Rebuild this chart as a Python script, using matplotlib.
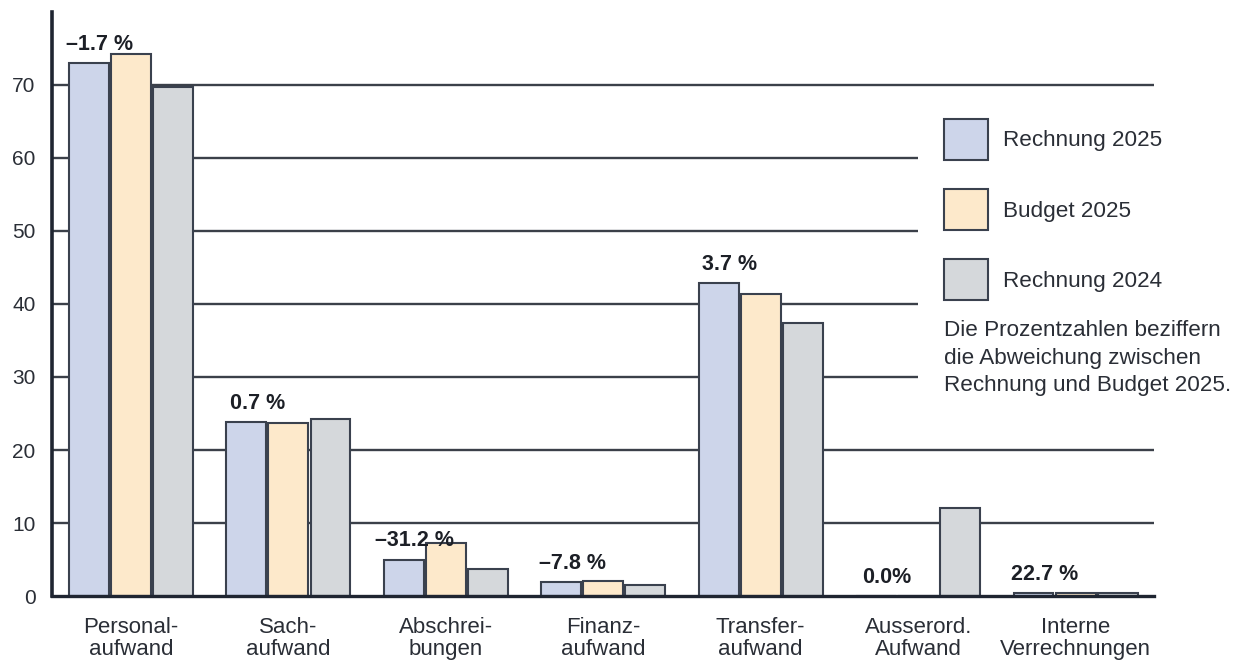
import matplotlib

matplotlib.use("Agg")

import matplotlib.pyplot as plt
import numpy as np
from matplotlib.patches import Patch

categories = [
    "Personal-\naufwand",
    "Sach-\naufwand",
    "Abschrei-\nbungen",
    "Finanz-\naufwand",
    "Transfer-\naufwand",
    "Ausserord.\nAufwand",
    "Interne\nVerrechnungen",
]
rechnung_2025 = [73.0, 23.9, 5.0, 1.95, 42.9, 0.0, 0.43]
budget_2025 = [74.2, 23.7, 7.3, 2.1, 41.4, 0.0, 0.35]
rechnung_2024 = [69.7, 24.3, 3.7, 1.55, 37.4, 12.0, 0.4]
abweichung = ["\u20131.7 %", "0.7 %", "\u201331.2 %", "\u20137.8 %", "3.7 %", "0.0%", "22.7 %"]
series_names = ["Rechnung 2025", "Budget 2025", "Rechnung 2024"]
y_ticks = [0, 10, 20, 30, 40, 50, 60, 70]
short_grid = [30, 40, 50, 60]  # lines that stop before the legend

colors = ["#cdd5ea", "#fde9cb", "#d5d8db"]
edge = "#3a414e"
dark = "#1f2531"
text_color = "#2a2e36"
plt.rcParams["font.family"] = ["Liberation Sans", "DejaVu Sans"]

fig = plt.figure(figsize=(12.4, 6.63), dpi=100)
ax = fig.add_axes([0.042, 0.101, 0.889, 0.881])

x = np.arange(len(categories))
step = 0.267
width = 0.252
for i, (vals, col) in enumerate(zip([rechnung_2025, budget_2025, rechnung_2024], colors)):
    ax.bar(x + (i - 1) * step, vals, width, color=col, edgecolor=edge, linewidth=1.5, zorder=3)

ax.set_xlim(-0.5, 6.5)
ax.set_ylim(0, 80)

for yv in y_ticks[1:]:
    xmax = 5.0 if yv in short_grid else 6.5
    ax.hlines(yv, -0.5, xmax, color="#3b4049", linewidth=1.7, zorder=1)

for xi, r, lab in zip(x, rechnung_2025, abweichung):
    ax.text(xi - step + 0.07, r + 1.1, lab, ha="center", va="bottom",
            fontsize=15.5, fontweight="bold", color="#1c1f26", zorder=5)

ax.set_xticks(x)
ax.set_xticklabels(categories, fontsize=16, color=text_color, linespacing=1.08)
ax.set_yticks(y_ticks)
ax.set_yticklabels([str(v) for v in y_ticks], fontsize=15, color=text_color)
ax.tick_params(axis="both", length=0)
ax.tick_params(axis="x", pad=15)
ax.tick_params(axis="y", pad=12)

for side in ["top", "right"]:
    ax.spines[side].set_visible(False)
ax.spines["left"].set_linewidth(2.6)
ax.spines["left"].set_color(dark)
ax.spines["bottom"].set_linewidth(2.4)
ax.spines["bottom"].set_color(dark)
ax.spines["bottom"].set_zorder(4)

handles = [Patch(facecolor=c, edgecolor=edge, linewidth=1.5) for c in colors]
fig.legend(handles, series_names, loc="upper left", bbox_to_anchor=(944 / 1240, 1 - 119 / 663),
           frameon=False, fontsize=16.2, handlelength=1.96, handleheight=2.42,
           labelspacing=1.3, handletextpad=0.67, borderpad=0, borderaxespad=0,
           labelcolor=text_color)

fig.text(944 / 1240, 1 - 320 / 663,
         "Die Prozentzahlen beziffern\ndie Abweichung zwischen\nRechnung und Budget 2025.",
         ha="left", va="top", fontsize=16.2, color=text_color, linespacing=1.42)

fig.savefig("out.png", dpi=100)
plt.close(fig)
